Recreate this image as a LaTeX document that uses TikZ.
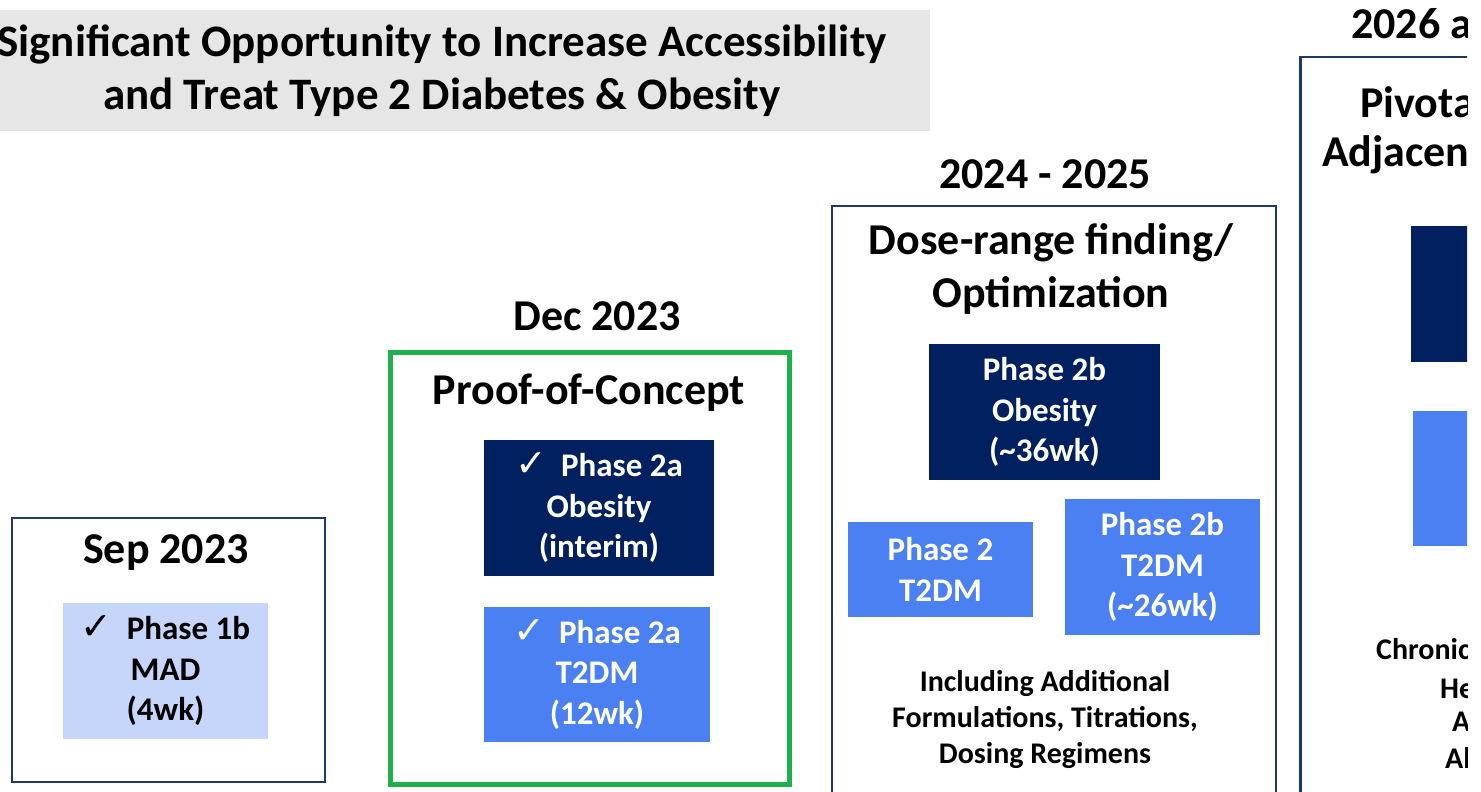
\documentclass[tikz,border=0pt]{standalone}
\usepackage{fontspec}
\setmainfont{Carlito}
\newfontfamily\symfont{DejaVu Sans}

\definecolor{navy}{HTML}{002060}
\definecolor{framecol}{HTML}{203864}
\definecolor{midblue}{HTML}{4A80F2}
\definecolor{paleblue}{HTML}{C5D6FA}
\definecolor{pocgreen}{HTML}{1DB04B}
\definecolor{bannergray}{HTML}{E6E6E6}

\newcommand{\bannerfont}{\fontsize{45}{53}\selectfont\bfseries}
\newcommand{\headfont}{\fontsize{44}{53}\selectfont\bfseries}
\newcommand{\boxfont}{\fontsize{33}{40.5}\selectfont\bfseries}
\newcommand{\notefont}{\fontsize{30}{36}\selectfont\bfseries}
\newcommand{\chk}{{\symfont\fontsize{38}{40}\selectfont ✓}\hspace{14pt}}

\tikzset{
  stagebox/.style={draw=framecol, line width=2.5pt, fill=white, inner sep=0pt},
  pocbox/.style={draw=pocgreen, line width=5pt, fill=white, inner sep=0pt},
  navybox/.style={fill=navy, text=white, inner sep=0pt, align=center, font=\boxfont},
  bluebox/.style={fill=midblue, text=white, inner sep=0pt, align=center, font=\boxfont},
  palebox/.style={fill=paleblue, text=black, inner sep=0pt, align=center, font=\boxfont},
  headtext/.style={inner sep=0pt, align=center, font=\headfont},
  notetext/.style={inner sep=0pt, align=center, font=\notefont},
  edgetext/.style={inner sep=0pt, anchor=west},
}

\begin{document}
\begin{tikzpicture}[x=1pt,y=-1pt]
\useasboundingbox (0,0) rectangle (1481,792);
\fill[white] (0,0) rectangle (1481,792);
\clip (0,0) rectangle (1467,792);

% banner
\node[fill=bannergray, minimum width=940, minimum height=121, inner sep=0pt] (banner) at (460,70.5) {};
\node[inner sep=0pt, align=center, font=\bannerfont] (bannertext) at (442,71)
  {Significant Opportunity to Increase Accessibility\\and Treat Type 2 Diabetes \& Obesity};

% Sep 2023 stage
\node[stagebox, minimum width=313, minimum height=264] (sep) at (168.5,650) {};
\node[headtext] (seplabel) at (166,553) {Sep 2023};
\node[palebox, minimum width=205, minimum height=136] (ph1b) at (165.5,671)
  {\chk Phase 1b\\MAD\\(4wk)};

% Dec 2023 stage
\node[headtext] (declabel) at (597,316) {Dec 2023};
\node[pocbox, minimum width=399, minimum height=432] (poc) at (589.5,568) {};
\node[headtext] (poctitle) at (589,393) {Proof-of-Concept};
\node[navybox, minimum width=230, minimum height=136] (ph2aob) at (599,508)
  {\chk Phase 2a\\Obesity\\(interim)};
\node[bluebox, minimum width=226, minimum height=135] (ph2at2) at (597,674.5)
  {\chk Phase 2a\\T2DM\\(12wk)};

% 2024 - 2025 stage
\node[headtext] (drflabel) at (1045,174) {2024 - 2025};
\node[stagebox, minimum width=444, minimum height=590] (drf) at (1054,501) {};
\node[headtext] (drftitle) at (1051,269) {Dose-range finding/\\Optimization};
\node[navybox, minimum width=231, minimum height=136] (ph2bob) at (1044.5,412)
  {Phase 2b\\Obesity\\(\textasciitilde 36wk)};
\node[bluebox, minimum width=185, minimum height=95] (ph2t2) at (940.5,569.5)
  {Phase 2\\T2DM};
\node[bluebox, minimum width=195, minimum height=136] (ph2bt2) at (1162.5,567)
  {Phase 2b\\T2DM\\(\textasciitilde 26wk)};
\node[notetext] (drfnote) at (1045,719)
  {Including Additional\\Formulations, Titrations,\\Dosing Regimens};

% 2026 and beyond stage, running past the right edge
\node[edgetext, font=\headfont] (latelabel) at (1351,27) {2026 and Beyond};
\node[stagebox, minimum width=500, minimum height=800, anchor=north west] (late) at (1299,56) {};
\node[edgetext, font=\headfont] (latetitle1) at (1360,102) {Pivotal Studies \&};
\node[edgetext, font=\headfont] (latetitle2) at (1322,155) {Adjacent Indications};
\node[fill=navy, minimum width=200, minimum height=136, inner sep=0pt, anchor=north west] (lateob) at (1411,226) {};
\node[fill=midblue, minimum width=200, minimum height=135, inner sep=0pt, anchor=north west] (latet2) at (1413,411) {};
\node[edgetext, font=\notefont] (latenote1) at (1376,652) {Chronic Weight Management};
\node[edgetext, font=\notefont] (latenote2) at (1440,688) {Heart Failure};
\node[edgetext, font=\notefont] (latenote3) at (1452,722) {ASCVD};
\node[edgetext, font=\notefont] (latenote4) at (1445,758) {Alzheimer's};
\end{tikzpicture}
\end{document}
